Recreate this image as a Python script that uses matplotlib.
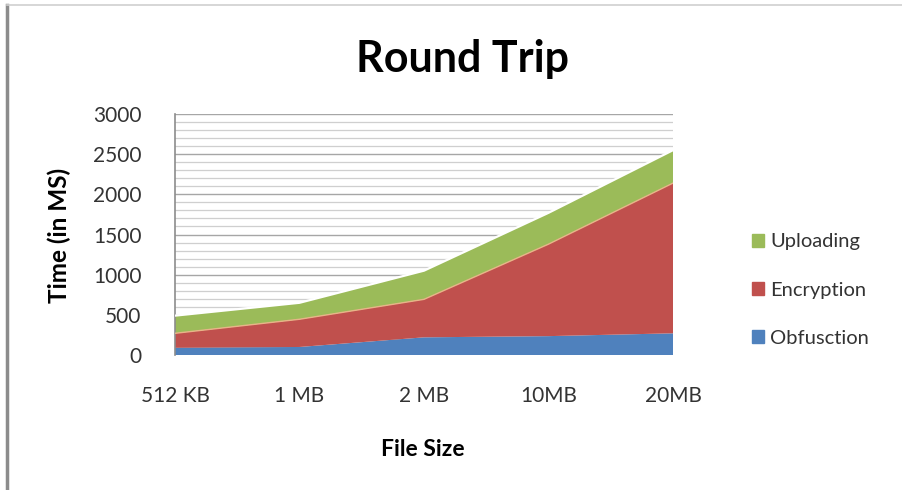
import matplotlib.pyplot as plt
from matplotlib.lines import Line2D
from matplotlib.patches import Patch
import numpy as np

plt.rcParams['font.family'] = ['Lato', 'DejaVu Sans']

# round trip timings per file size (ms)
sizes = ["512 KB", "1 MB", "2 MB", "10MB", "20MB"]
obfuscation = [90, 100, 220, 235, 270]
encryption = [180, 345, 473, 1145, 1870]
uploading = [220, 205, 357, 390, 410]

green = '#9BBB59'
red = '#C0504D'
blue = '#4F81BD'
text_col = '#333333'

fig = plt.figure(figsize=(9.03, 4.9), dpi=100)
ax = fig.add_axes([0.1938, 0.2755, 0.5515, 0.4918])

x = np.arange(len(sizes))

# back wall gridlines, every 100 with stronger lines every 500
for v in range(100, 3001, 100):
    if v % 500 == 0:
        ax.axhline(v, color='#A6A6A6', lw=1.0, zorder=0)
    else:
        ax.axhline(v, color='#CFCFCF', lw=0.9, zorder=0)

ax.stackplot(x, obfuscation, encryption, uploading,
             colors=[blue, red, green], zorder=2)

# light edges along the top of the red and green layers
red_top = np.array(obfuscation) + np.array(encryption)
total = red_top + np.array(uploading)
ax.plot(x, red_top, color='#E8B488', lw=1.0, zorder=3)
ax.plot(x, total, color='white', lw=1.6, zorder=3)

ax.set_xlim(0, 4)
ax.set_ylim(0, 3000)
ax.set_yticks(range(0, 3001, 500))
ax.set_xticks(x)
ax.set_xticklabels(sizes)
ax.tick_params(axis='both', length=0, labelsize=15, colors=text_col)
ax.tick_params(axis='y', pad=24)
ax.tick_params(axis='x', pad=22)

for side in ['top', 'right', 'bottom']:
    ax.spines[side].set_visible(False)
ax.spines['left'].set_color('#8C8C8C')
ax.spines['left'].set_linewidth(1.2)

fig.text(0.512, 0.853, "Round Trip", ha='center', va='baseline',
         fontsize=31, fontweight='bold', color='black')
fig.text(0.066, 0.52, "Time (in MS)", ha='center', va='center',
         rotation=90, fontsize=17.5, fontweight='bold', color='black')
fig.text(0.468, 0.082, "File Size", ha='center', va='center',
         fontsize=16.5, fontweight='bold', color='black')

handles = [Patch(color=green, label='Uploading'),
           Patch(color=red, label='Encryption'),
           Patch(color=blue, label='Obfusction')]
fig.legend(handles=handles, loc='center left', bbox_to_anchor=(0.813, 0.408),
           frameon=False, fontsize=14.5, handlelength=0.6, handleheight=0.6,
           handletextpad=0.3, labelspacing=1.55, labelcolor=text_col)

# outer chart frame on the left and top
fig.add_artist(Line2D([0.008, 0.008], [0.0, 0.99], color='#8C8C8C', lw=2.5))
fig.add_artist(Line2D([0.008, 1.0], [0.99, 0.99], color='#D0D0D0', lw=1.2))

fig.savefig('out.png', dpi=100)
